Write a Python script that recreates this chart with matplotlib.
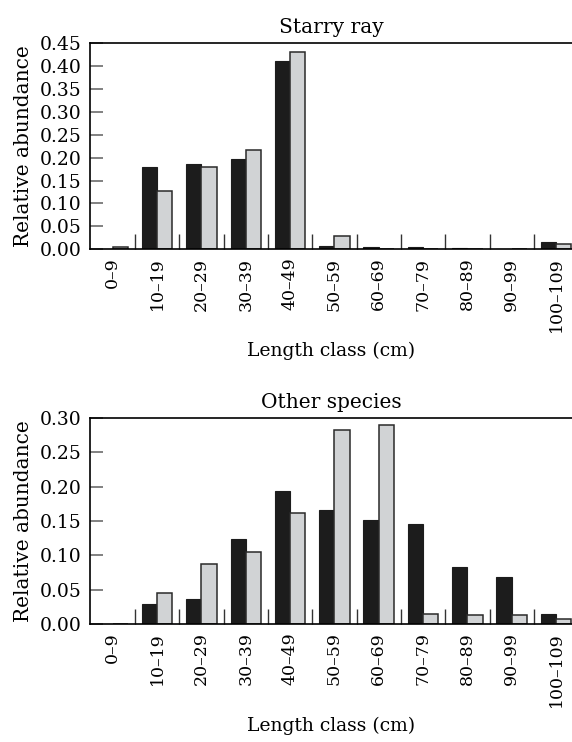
import matplotlib
matplotlib.use("Agg")
import matplotlib.pyplot as plt
import numpy as np

classes = ["0\u20139", "10\u201319", "20\u201329", "30\u201339", "40\u201349", "50\u201359",
           "60\u201369", "70\u201379", "80\u201389", "90\u201399", "100\u2013109"]

# Starry ray
ray_dark = [0.0, 0.179, 0.187, 0.197, 0.410, 0.007, 0.005, 0.004, 0.002, 0.0, 0.015]
ray_grey = [0.006, 0.128, 0.180, 0.216, 0.431, 0.030, 0.0, 0.0, 0.0, 0.0, 0.011]

# Other species
oth_dark = [0.0, 0.029, 0.036, 0.124, 0.194, 0.166, 0.151, 0.145, 0.083, 0.069, 0.014]
oth_grey = [0.0, 0.045, 0.088, 0.105, 0.161, 0.282, 0.289, 0.015, 0.013, 0.013, 0.008]

ray_ticks = [0.00, 0.05, 0.10, 0.15, 0.20, 0.25, 0.30, 0.35, 0.40, 0.45]
oth_ticks = [0.00, 0.05, 0.10, 0.15, 0.20, 0.25, 0.30]

DARK, GREY = "#1c1c1c", "#d1d3d5"
plt.rcParams["font.family"] = ["DejaVu Serif"]

fig = plt.figure(figsize=(5.72, 7.42), dpi=100)
ax1 = fig.add_axes([0.157, 0.664, 0.843, 0.278])
ax2 = fig.add_axes([0.157, 0.159, 0.843, 0.278])


def panel(ax, dark, grey, ticks, title):
    x = np.arange(len(classes))
    w = 0.345
    ax.bar(x, dark, width=-w, align="edge", color=DARK, edgecolor=DARK, lw=0.8)
    ax.bar(x, grey, width=w, align="edge", color=GREY, edgecolor="#2a2a2a", lw=1.1)
    ax.set_xlim(-0.52, 10.36)
    ax.set_ylim(0, ticks[-1])
    ax.set_yticks(ticks)
    ax.set_yticklabels([f"{t:.2f}" for t in ticks], fontsize=13.5)
    ax.tick_params(axis="y", direction="in", length=9, width=1.3, color="#777777", pad=6)
    ax.set_xticks(x)
    ax.set_xticklabels(classes, rotation=90, fontsize=12.5)
    ax.tick_params(axis="x", length=0, pad=6)
    ax.set_xticks([0] + list(np.arange(0.5, 10, 1.0)) + [10], minor=True)
    ax.tick_params(axis="x", which="minor", direction="in", length=11, width=1.0,
                   color="#333333")
    ax.spines["right"].set_visible(False)
    for s in ("top", "bottom", "left"):
        ax.spines[s].set_linewidth(1.2)
    ax.set_ylabel("Relative abundance", fontsize=14.5, labelpad=5)
    ax.set_xlabel("Length class (cm)", fontsize=13.5, labelpad=7)
    ax.set_title(title, fontsize=14.5, pad=7)


panel(ax1, ray_dark, ray_grey, ray_ticks, "Starry ray")
panel(ax2, oth_dark, oth_grey, oth_ticks, "Other species")

fig.savefig("out.png", dpi=100)
